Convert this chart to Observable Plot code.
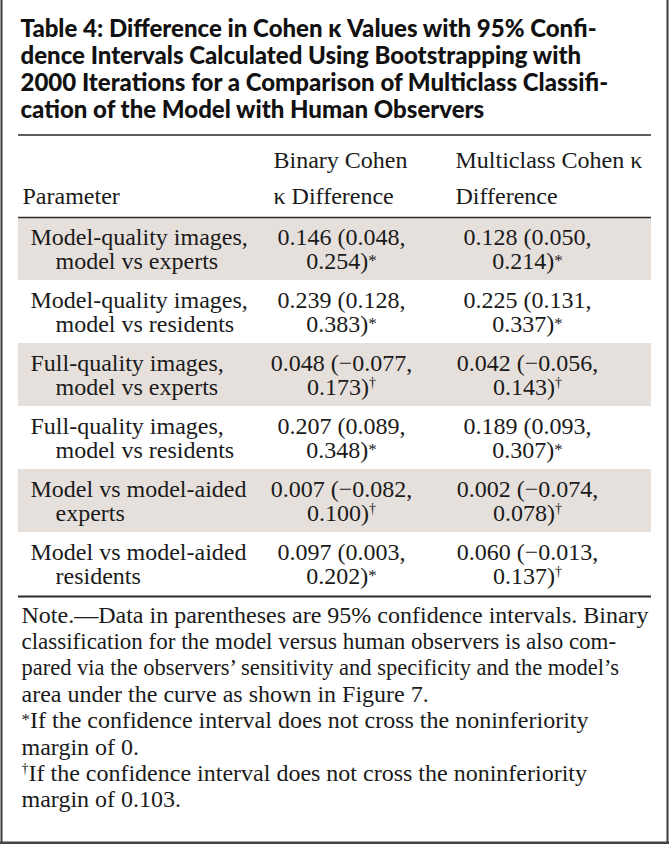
<!DOCTYPE html>
<html><head><meta charset="utf-8">
<script src="https://cdn.jsdelivr.net/npm/d3@7"></script>
<script src="https://cdn.jsdelivr.net/npm/@observablehq/plot@0.6"></script>
<style>html,body{margin:0;padding:0;background:#fff}</style>
</head><body><div id="chart"></div>
<script>
// ---- content ----
const titleLines = [
  "Table 4: Difference in Cohen \u03ba Values with 95% Confi-",
  "dence Intervals Calculated Using Bootstrapping with",
  "2000 Iterations for a Comparison of Multiclass Classifi-",
  "cation of the Model with Human Observers"
];
const headerParameter = ["Parameter"];
const headerBinary = ["Binary Cohen", "\u03ba Difference"];
const headerMulticlass = ["Multiclass Cohen \u03ba", "Difference"];
const parameters = [
  ["Model-quality images,", "model vs experts"],
  ["Model-quality images,", "model vs residents"],
  ["Full-quality images,", "model vs experts"],
  ["Full-quality images,", "model vs residents"],
  ["Model vs model-aided", "experts"],
  ["Model vs model-aided", "residents"]
];
const binaryDiff = [0.146, 0.239, 0.048, 0.207, 0.007, 0.097];
const binaryLow  = [0.048, 0.128, -0.077, 0.089, -0.082, 0.003];
const binaryHigh = [0.254, 0.383, 0.173, 0.348, 0.100, 0.202];
const binaryMark = ["*", "*", "\u2020", "*", "\u2020", "*"];
const multiDiff = [0.128, 0.225, 0.042, 0.189, 0.002, 0.060];
const multiLow  = [0.050, 0.131, -0.056, 0.093, -0.074, -0.013];
const multiHigh = [0.214, 0.337, 0.143, 0.307, 0.078, 0.137];
const multiMark = ["*", "*", "\u2020", "*", "\u2020", "\u2020"];
const noteLines = [
  "Note.\u2014Data in parentheses are 95% confidence intervals. Binary",
  "classification for the model versus human observers is also com-",
  "pared via the observers\u2019 sensitivity and specificity and the model\u2019s",
  "area under the curve as shown in Figure 7.",
  "*If the confidence interval does not cross the noninferiority",
  "margin of 0.",
  "\u2020If the confidence interval does not cross the noninferiority",
  "margin of 0.103."
];

// ---- layout ----
const W = 669, H = 844;
const L = 18, R = 651;
const titleX = 20, titleY0 = 36, titleStep = 27;
const rule1 = 134.5;
const headY = [167, 203];
const rule2 = 217;
const rowH = 63;
const lineOff = [27, 51];
const rowTop = i => rule2 + i * rowH;
const rule3 = rule2 + parameters.length * rowH + 1;
const noteX = 21, noteY0 = 622, noteStep = 26.4;
const noteFontSize = [24, 23, 22.5, 24, 24, 24, 24, 24]; // fits the justified lines
const paramX = [30, 55];
const headX = [22, 273, 455];
const valueCX = [341, 527];

const serif = "'Liberation Serif', 'DejaVu Serif', serif";
const sans = "Lato, 'DejaVu Sans', sans-serif";
const fs = 24;

const fmt = v => d3.format(".3f")(v).replace("-", "\u2013");
const cell = (d, lo, hi, mk) => [fmt(d) + " (" + fmt(lo) + ",", fmt(hi) + ")" + mk];

const rows = parameters.map((p, i) => ({i}));
const shaded = rows.filter(r => r.i % 2 === 0);

const paramText = parameters.flatMap((p, i) => p.map((t, j) => ({i, j, t})));
const valueText = parameters.flatMap((p, i) => [
  ...cell(binaryDiff[i], binaryLow[i], binaryHigh[i], binaryMark[i]).map((t, j) => ({i, j, c: 0, t})),
  ...cell(multiDiff[i], multiLow[i], multiHigh[i], multiMark[i]).map((t, j) => ({i, j, c: 1, t}))
]);
const headText = [
  ...headerParameter.map((t) => ({c: 0, j: 1, t})),
  ...headerBinary.map((t, j) => ({c: 1, j, t})),
  ...headerMulticlass.map((t, j) => ({c: 2, j, t}))
];

// one text mark per note line so each can have its own (constant) size
const noteMarks = noteLines.map((line, i) =>
  Plot.text([line], {x: noteX, y: () => noteY0 + i * noteStep, text: d => d, textAnchor: "start",
    fontFamily: serif, fontSize: noteFontSize[i], fill: "#1a1a1a"})
);

const svg = Plot.plot({
  width: W, height: H, margin: 0,
  x: {domain: [0, W], range: [0, W], axis: null},
  y: {domain: [0, H], range: [0, H], axis: null},
  style: {background: "#fff", color: "#1a1a1a"},
  marks: [
    Plot.rect(shaded, {x1: L, x2: R, y1: d => rowTop(d.i), y2: d => rowTop(d.i) + rowH, fill: "#e6e0dc"}),
    Plot.ruleY([rule1, rule2], {x1: L, x2: R, stroke: "#2a2a2a", strokeWidth: 1.6}),
    Plot.ruleY([rule3], {x1: L, x2: R, stroke: "#2a2a2a", strokeWidth: 2}),
    Plot.ruleX([1, 667], {y1: 0, y2: H, stroke: "#3a3a3a", strokeWidth: 2}),
    Plot.ruleY([842.5], {x1: 0, x2: W, stroke: "#444", strokeWidth: 3}),
    Plot.text(titleLines, {x: titleX, y: (d, i) => titleY0 + i * titleStep, text: d => d, textAnchor: "start",
      fontFamily: sans, fontWeight: 900, fontSize: 24, fill: "#111", ariaLabel: "title"}),
    Plot.text(headText, {x: d => headX[d.c], y: d => headY[d.j], text: "t", textAnchor: "start",
      fontFamily: serif, fontSize: fs, fill: "#1a1a1a"}),
    Plot.text(paramText, {x: d => paramX[d.j], y: d => rowTop(d.i) + lineOff[d.j], text: "t", textAnchor: "start",
      fontFamily: serif, fontSize: fs, fill: "#1a1a1a"}),
    Plot.text(valueText, {x: d => valueCX[d.c], y: d => rowTop(d.i) + lineOff[d.j], text: "t", textAnchor: "middle",
      fontFamily: serif, fontSize: fs, fill: "#1a1a1a"}),
    ...noteMarks
  ]
});
document.getElementById("chart").appendChild(svg);

// put each text's baseline exactly at its y position
const NS = "http://www.w3.org/2000/svg";
svg.querySelectorAll("text").forEach(t => {
  if (t.hasAttribute("dy")) t.setAttribute("dy", "0");
  const ya = t.getAttribute("y");
  if (ya && /em$/.test(ya)) t.setAttribute("y", "0");
});
// title tracking
svg.querySelectorAll('g[aria-label="title"] text').forEach(t => { t.style.letterSpacing = "0.25px"; });
// superscript * and dagger
svg.querySelectorAll("text").forEach(t => {
  const s = t.textContent;
  if (!/[*\u2020]/.test(s)) return;
  t.textContent = "";
  const parts = s.split(/([*\u2020])/).filter(p => p);
  let shift = 0;
  for (const p of parts) {
    const ts = document.createElementNS(NS, "tspan");
    ts.textContent = p;
    if (p === "*" || p === "\u2020") {
      ts.setAttribute("font-size", p === "*" ? "17" : "14");
      const up = p === "*" ? 3 : 8;
      ts.setAttribute("dy", String(-up - shift));
      shift = -up;
    } else if (shift) {
      ts.setAttribute("dy", String(-shift));
      shift = 0;
    }
    t.appendChild(ts);
  }
});
</script>
</body></html>
